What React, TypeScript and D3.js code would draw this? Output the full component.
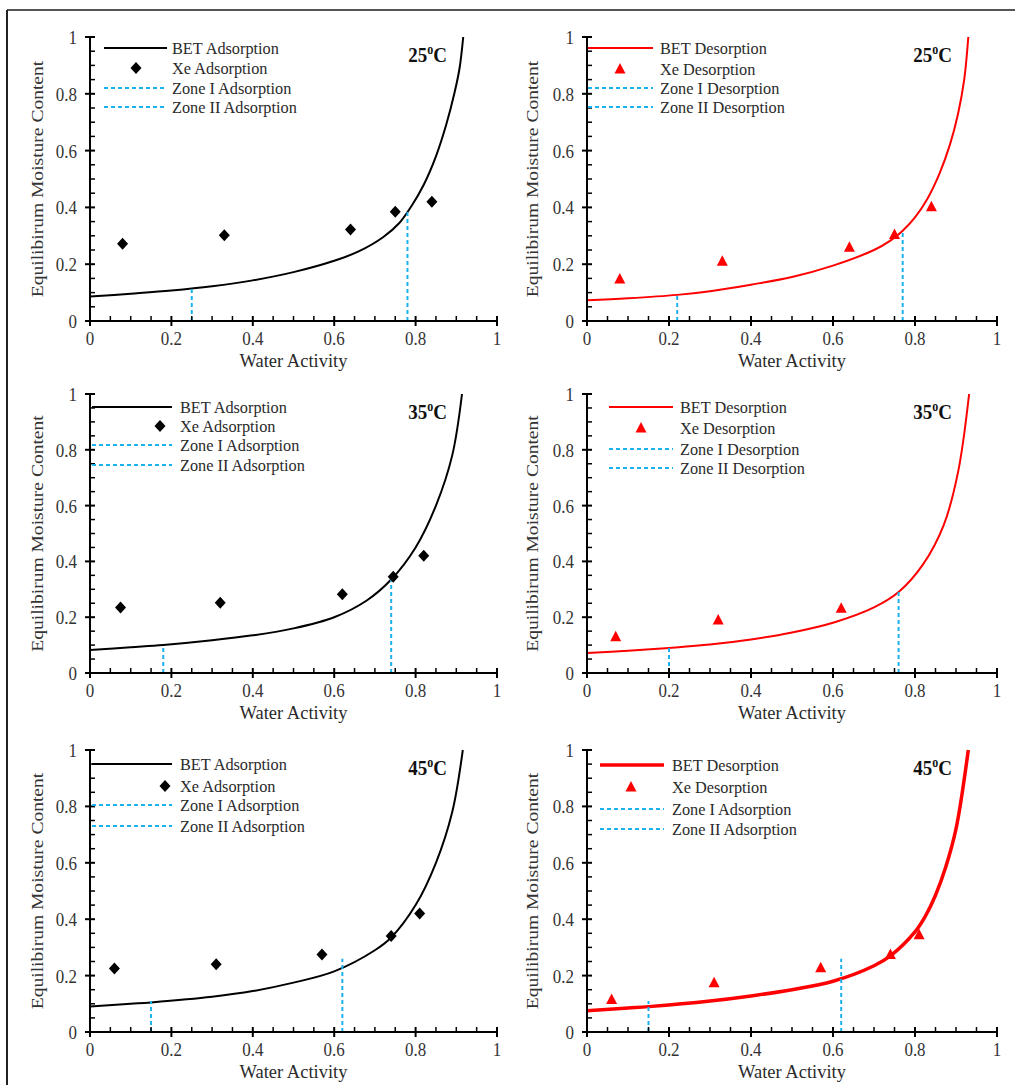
import React from 'react';
import * as d3 from 'd3';

// tick labels
const majorTicks = [0, 0.2, 0.4, 0.6, 0.8, 1];
const tickLabels = ['0', '0.2', '0.4', '0.6', '0.8', '1'];

// Xe experimental points (water activity, EMC)
const xe25AdsAw = [0.08, 0.33, 0.64, 0.75, 0.84];
const xe25AdsM = [0.272, 0.302, 0.322, 0.385, 0.42];
const xe25DesAw = [0.08, 0.33, 0.64, 0.75, 0.84];
const xe25DesM = [0.148, 0.21, 0.26, 0.305, 0.402];
const xe35AdsAw = [0.075, 0.32, 0.62, 0.745, 0.82];
const xe35AdsM = [0.235, 0.252, 0.282, 0.345, 0.42];
const xe35DesAw = [0.07, 0.32, 0.62];
const xe35DesM = [0.13, 0.19, 0.232];
const xe45AdsAw = [0.06, 0.31, 0.57, 0.74, 0.81];
const xe45AdsM = [0.225, 0.24, 0.275, 0.34, 0.42];
const xe45DesAw = [0.06, 0.31, 0.57, 0.74, 0.81];
const xe45DesM = [0.115, 0.175, 0.228, 0.275, 0.345];

// BET curves
const bet25AdsAw = [0, 0.1, 0.2, 0.3, 0.4, 0.5, 0.6, 0.66, 0.72, 0.76, 0.79, 0.82, 0.85, 0.875, 0.895, 0.908, 0.917];
const bet25AdsM = [0.086, 0.096, 0.107, 0.122, 0.143, 0.172, 0.212, 0.245, 0.295, 0.345, 0.405, 0.48, 0.58, 0.69, 0.8, 0.89, 1.0];
const bet25DesAw = [0, 0.1, 0.22, 0.3, 0.4, 0.5, 0.6, 0.7, 0.74, 0.77, 0.8, 0.83, 0.86, 0.885, 0.905, 0.92, 0.93];
const bet25DesM = [0.073, 0.08, 0.092, 0.105, 0.128, 0.155, 0.195, 0.25, 0.283, 0.318, 0.365, 0.43, 0.52, 0.62, 0.73, 0.85, 1.0];
const bet35AdsAw = [0, 0.1, 0.18, 0.3, 0.4, 0.5, 0.6, 0.68, 0.74, 0.8, 0.85, 0.89, 0.914];
const bet35AdsM = [0.082, 0.092, 0.1, 0.117, 0.135, 0.16, 0.2, 0.26, 0.335, 0.45, 0.6, 0.78, 1.0];
const bet35DesAw = [0, 0.1, 0.2, 0.3, 0.4, 0.5, 0.6, 0.7, 0.76, 0.82, 0.87, 0.905, 0.932];
const bet35DesM = [0.072, 0.08, 0.09, 0.102, 0.12, 0.145, 0.18, 0.235, 0.29, 0.39, 0.53, 0.72, 1.0];
const bet45AdsAw = [0, 0.1, 0.15, 0.3, 0.4, 0.5, 0.6, 0.7, 0.74, 0.8, 0.85, 0.89, 0.916];
const bet45AdsM = [0.09, 0.1, 0.105, 0.125, 0.145, 0.175, 0.215, 0.29, 0.335, 0.45, 0.6, 0.78, 1.0];
const bet45DesAw = [0, 0.1, 0.15, 0.3, 0.4, 0.5, 0.6, 0.7, 0.74, 0.8, 0.825, 0.85, 0.875, 0.9, 0.93];
const bet45DesM = [0.075, 0.085, 0.09, 0.11, 0.128, 0.15, 0.18, 0.235, 0.27, 0.355, 0.41, 0.485, 0.585, 0.72, 1.0];

// zone boundaries: [aw, top of dashed line]
const zones25Ads = [[0.25, 0.115], [0.78, 0.39]];
const zones25Des = [[0.22, 0.09], [0.77, 0.32]];
const zones35Ads = [[0.18, 0.1], [0.74, 0.345]];
const zones35Des = [[0.2, 0.09], [0.76, 0.29]];
const zones45Ads = [[0.15, 0.11], [0.62, 0.26]];
const zones45Des = [[0.15, 0.11], [0.62, 0.26]];

const adsLegend = ['BET Adsorption', 'Xe Adsorption', 'Zone I Adsorption', 'Zone II Adsorption'];
const desLegend = ['BET Desorption', 'Xe Desorption', 'Zone I Desorption', 'Zone II Desorption'];
const desLegend45 = ['BET Desorption', 'Xe Desorption', 'Zone I Adsorption', 'Zone II Adsorption'];

const FONT = '"Liberation Serif", "Times New Roman", serif';
const BLUE = '#1ab2ee';
const RED = '#ff0000';
const STRETCH = 1.15; // glyphs in the figure are a bit taller than wide

const zip = (a: number[], b: number[]) => a.map((v, i) => [v, b[i]] as [number, number]);

const panels = [
  { temp: '25', x0: 90, x1: 497, y0: 321, y1: 37, color: '#000', marker: 'diamond', width: 2,
    aw: xe25AdsAw, m: xe25AdsM, bAw: bet25AdsAw, bM: bet25AdsM, zones: zones25Ads, legend: adsLegend,
    lg: { l0: 104, l1: 167, tx: 172, mx: 136, ys: [48, 68, 88, 107] } },
  { temp: '25', x0: 587, x1: 997, y0: 321, y1: 37, color: RED, marker: 'triangle', width: 2,
    aw: xe25DesAw, m: xe25DesM, bAw: bet25DesAw, bM: bet25DesM, zones: zones25Des, legend: desLegend,
    lg: { l0: 588, l1: 653, tx: 660, mx: 620, ys: [48, 69, 88, 107] } },
  { temp: '35', x0: 90, x1: 497, y0: 673, y1: 394, color: '#000', marker: 'diamond', width: 2,
    aw: xe35AdsAw, m: xe35AdsM, bAw: bet35AdsAw, bM: bet35AdsM, zones: zones35Ads, legend: adsLegend,
    lg: { l0: 92, l1: 172, tx: 180, mx: 160, ys: [407, 426, 445, 465] } },
  { temp: '35', x0: 587, x1: 997, y0: 673, y1: 394, color: RED, marker: 'triangle', width: 2,
    aw: xe35DesAw, m: xe35DesM, bAw: bet35DesAw, bM: bet35DesM, zones: zones35Des, legend: desLegend,
    lg: { l0: 609, l1: 673, tx: 680, mx: 641, ys: [407, 428, 449, 468] } },
  { temp: '45', x0: 90, x1: 497, y0: 1032, y1: 750, color: '#000', marker: 'diamond', width: 2,
    aw: xe45AdsAw, m: xe45AdsM, bAw: bet45AdsAw, bM: bet45AdsM, zones: zones45Ads, legend: adsLegend,
    lg: { l0: 92, l1: 172, tx: 180, mx: 165, ys: [764, 786, 805, 826] } },
  { temp: '45', x0: 587, x1: 997, y0: 1032, y1: 750, color: RED, marker: 'triangle', width: 3.5,
    aw: xe45DesAw, m: xe45DesM, bAw: bet45DesAw, bM: bet45DesM, zones: zones45Des, legend: desLegend45,
    lg: { l0: 600, l1: 664, tx: 672, mx: 631, ys: [765, 787, 809, 829] } },
];

const Marker = ({ kind, x, y, color }: { kind: string; x: number; y: number; color: string }) => {
  if (kind === 'diamond') {
    return <path d={`M${x},${y - 6}L${x + 5.5},${y}L${x},${y + 6}L${x - 5.5},${y}Z`} fill={color} />;
  }
  return <path d={`M${x},${y - 6}L${x + 5.5},${y + 4.5}L${x - 5.5},${y + 4.5}Z`} fill={color} />;
};

// text drawn at (x, y) and stretched vertically
const T = ({ x, y, size, anchor = 'start', children, fill = '#2a2a2a', weight = 'normal', k = STRETCH }: any) => (
  <text transform={`translate(${x},${y}) scale(1,${k})`} textAnchor={anchor} fontSize={size}
    fontFamily={FONT} fill={fill} fontWeight={weight}>
    {children}
  </text>
);

const Panel = ({ p }: { p: (typeof panels)[number] }) => {
  const x = d3.scaleLinear().domain([0, 1]).range([p.x0, p.x1]);
  const y = d3.scaleLinear().domain([0, 1]).range([p.y0, p.y1]);
  const minor = x.ticks(25).filter((t) => !majorTicks.some((m) => Math.abs(m - t) < 1e-6));
  const line = d3.line<[number, number]>().x((d) => x(d[0])).y((d) => y(d[1])).curve(d3.curveCatmullRom.alpha(0.5));
  const pts = zip(p.aw, p.m);
  const curve = zip(p.bAw, p.bM);
  const ax = p.x0;
  const titleX = p.x0 < 300 ? 37 : 532;
  const midY = (p.y0 + p.y1) / 2;
  return (
    <g>
      {/* BET curve */}
      <path d={line(curve) || ''} fill="none" stroke={p.color} strokeWidth={p.width} />
      {/* zone boundaries */}
      {p.zones.map(([a, top], i) => (
        <line key={i} x1={x(a)} x2={x(a)} y1={y(0)} y2={y(top)} stroke={BLUE} strokeWidth={2} strokeDasharray="4,3" />
      ))}
      {/* points */}
      {pts.map((d, i) => (
        <Marker key={i} kind={p.marker} x={x(d[0])} y={y(d[1])} color={p.color} />
      ))}
      {/* axes */}
      <line x1={x(0)} x2={x(1)} y1={y(0)} y2={y(0)} stroke="#000" strokeWidth={2} />
      <line x1={ax} x2={ax} y1={y(0)} y2={y(1)} stroke="#000" strokeWidth={2} />
      {minor.map((t) => (
        <g key={'m' + t}>
          <line x1={x(t)} x2={x(t)} y1={y(0)} y2={y(0) - 5} stroke="#000" strokeWidth={1.5} />
          <line x1={ax} x2={ax + 5} y1={y(t)} y2={y(t)} stroke="#000" strokeWidth={1.5} />
        </g>
      ))}
      {majorTicks.map((t, i) => (
        <g key={'M' + t}>
          <line x1={x(t)} x2={x(t)} y1={y(0) - 5} y2={y(0) + 5} stroke="#000" strokeWidth={2} />
          <line x1={ax - 5} x2={ax + 5} y1={y(t)} y2={y(t)} stroke="#000" strokeWidth={2} />
          <T x={x(t)} y={y(0) + 24} size={17} anchor="middle" fill="#333">{tickLabels[i]}</T>
          <T x={ax - 13} y={y(t) + 7} size={17} anchor="end" fill="#333">{tickLabels[i]}</T>
        </g>
      ))}
      <T x={(p.x0 + p.x1) / 2} y={p.y0 + 46} size={18.5} k={1.03} anchor="middle">Water Activity</T>
      <text transform={`translate(${titleX},${midY}) scale(1,${STRETCH}) rotate(-90)`} textAnchor="middle" dy={6}
        fontSize={17} fontFamily={FONT} fill="#333">
        Equilibirum Moisture Content
      </text>
      {/* temperature label */}
      <T x={p.x0 < 300 ? 447 : 952} y={p.y1 + 25} size={19} anchor="end" fill="#111" weight="bold">
        {p.temp}
        <tspan fontSize={12} dy={-7}>o</tspan>
        <tspan dy={7}>C</tspan>
      </T>
      {/* legend */}
      <line x1={p.lg.l0} x2={p.lg.l1} y1={p.lg.ys[0]} y2={p.lg.ys[0]} stroke={p.color} strokeWidth={p.width} />
      <Marker kind={p.marker} x={p.lg.mx} y={p.lg.ys[1]} color={p.color} />
      {[2, 3].map((k) => (
        <line key={k} x1={p.lg.l0} x2={p.lg.l1} y1={p.lg.ys[k]} y2={p.lg.ys[k]} stroke={BLUE} strokeWidth={2} strokeDasharray="4,3" />
      ))}
      {p.legend.map((s, k) => (
        <T key={s + k} x={p.lg.tx} y={p.lg.ys[k] + 5.5} size={16.3} k={1}>{s}</T>
      ))}
    </g>
  );
};

export default function App() {
  return (
    <svg width={1015} height={1085} style={{ position: 'absolute', left: 0, top: 0, background: '#fff' }}>
      <rect width={1015} height={1085} fill="#fff" />
      <line x1={7} x2={1015} y1={10} y2={10} stroke="#555" strokeWidth={2} />
      <line x1={7} x2={7} y1={10} y2={1085} stroke="#222" strokeWidth={2} />
      {panels.map((p, i) => (
        <Panel key={i} p={p} />
      ))}
    </svg>
  );
}
